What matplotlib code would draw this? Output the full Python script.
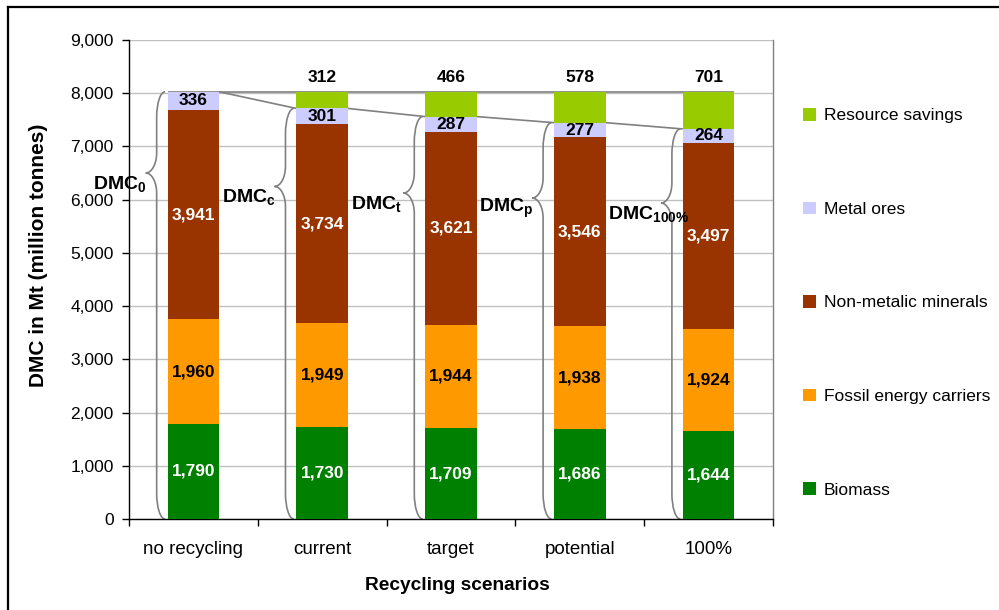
import numpy as np
import matplotlib
matplotlib.use("Agg")
import matplotlib.pyplot as plt
from matplotlib.path import Path
from matplotlib.patches import PathPatch
from matplotlib.lines import Line2D
from matplotlib.ticker import FuncFormatter

plt.rcParams['font.family'] = ['Liberation Sans', 'DejaVu Sans']
plt.rcParams['mathtext.fontset'] = 'custom'
plt.rcParams['mathtext.rm'] = 'Liberation Sans'
plt.rcParams['mathtext.bf'] = 'Liberation Sans:bold'
plt.rcParams['mathtext.it'] = 'Liberation Sans:italic'

# ---- data (million tonnes) ----
scenarios = ['no recycling', 'current', 'target', 'potential', '100%']
biomass = [1790, 1730, 1709, 1686, 1644]
fossil = [1960, 1949, 1944, 1938, 1924]
nonmetallic = [3941, 3734, 3621, 3546, 3497]
metal_ores = [336, 301, 287, 277, 264]
resource_savings = [0, 312, 466, 578, 701]
dmc_subscripts = ['0', 'c', 't', 'p', '100%']

series = [
    ('Biomass', biomass, '#008000', 'white'),
    ('Fossil energy carriers', fossil, '#FF9900', 'black'),
    ('Non-metalic minerals', nonmetallic, '#993300', 'white'),
    ('Metal ores', metal_ores, '#CCCCFF', 'black'),
    ('Resource savings', resource_savings, '#99CC00', 'black'),
]

fig = plt.figure(figsize=(9.99, 6.10), dpi=100)
ax = fig.add_axes([0.1291, 0.1492, 0.6447, 0.7852])

x = np.arange(len(scenarios))
bar_w = 0.4
bottom = np.zeros(len(x))
handles = []
for name, vals, color, tcolor in series:
    vals = np.asarray(vals, dtype=float)
    bars = ax.bar(x, vals, width=bar_w, bottom=bottom, color=color,
                  label=name, zorder=3, linewidth=0)
    handles.append(bars)
    for xi, b, v in zip(x, bottom, vals):
        if v <= 0:
            continue
        if name == 'Resource savings':
            ax.annotate(f'{v:,.0f}', (xi, b + v), xytext=(0, 7),
                        textcoords='offset pixels', ha='center', va='bottom',
                        fontsize=12.5, fontweight='bold', color=tcolor, zorder=5)
        else:
            ax.text(xi, b + v / 2, f'{v:,.0f}', ha='center', va='center',
                    fontsize=12.5, fontweight='bold', color=tcolor, zorder=5)
    bottom += vals

# DMC = all material categories (savings excluded)
dmc = (np.asarray(biomass) + np.asarray(fossil) + np.asarray(nonmetallic)
       + np.asarray(metal_ores)).astype(float)

line_kw = dict(color='#808080', lw=1.2, zorder=2, solid_capstyle='butt')
# reference level of the no-recycling scenario
ax.plot([x[0] - bar_w / 2, x[-1] + bar_w / 2], [dmc[0], dmc[0]], **line_kw)
# decline of DMC from scenario to scenario
for i in range(len(x) - 1):
    ax.plot([x[i] + bar_w / 2, x[i + 1] - bar_w / 2], [dmc[i], dmc[i + 1]], **line_kw)


def brace_path(xl, top, tip_frac=0.81):
    """Left-pointing curly brace from 0 to `top`, ending at x = xl."""
    xe = xl - 0.02     # curl ends
    xv = xl - 0.085    # vertical stroke
    xt = xl - 0.17     # tip
    r = 480.0          # end curl height
    rt = 380.0         # tip curl height
    k = 0.5523
    tip = top * tip_frac
    verts = [
        (xe, top),
        (xe - k * (xe - xv), top), (xv, top - r + k * r), (xv, top - r),
        (xv, tip + rt),
        (xv, tip + rt - k * rt), (xt + k * (xv - xt), tip), (xt, tip),
        (xt + k * (xv - xt), tip), (xv, tip - rt + k * rt), (xv, tip - rt),
        (xv, r),
        (xv, r - k * r), (xe - k * (xe - xv), 0), (xe, 0),
    ]
    codes = ([Path.MOVETO] + [Path.CURVE4] * 3 + [Path.LINETO] + [Path.CURVE4] * 6
             + [Path.LINETO] + [Path.CURVE4] * 3)
    return Path(verts, codes), xt, tip


for i, (xi, d, sub) in enumerate(zip(x, dmc, dmc_subscripts)):
    path, xt, tip = brace_path(xi - bar_w / 2, d)
    ax.add_patch(PathPatch(path, facecolor='none', edgecolor='#808080',
                           lw=1.2, zorder=2.5, clip_on=False))
    ax.text(xi - 0.78, tip - 200, r'$\mathbf{DMC_{%s}}$' % sub.replace('%', r'\%'),
            ha='left', va='center', fontsize=14, zorder=6, clip_on=False)

# axes styling
ax.set_xlim(-0.5, len(x) - 0.5)
ax.set_ylim(0, 9000)
ax.set_yticks(np.arange(0, 9001, 1000))
ax.yaxis.set_major_formatter(FuncFormatter(lambda v, p: f'{v:,.0f}'))
ax.yaxis.grid(True, color='#C0C0C0', lw=1, zorder=0)
ax.set_axisbelow(True)

ax.set_xticks(x)
ax.set_xticklabels(scenarios)
ax.set_xticks(np.arange(-0.5, len(x), 1.0), minor=True)
ax.tick_params(axis='x', which='major', length=0, pad=16, labelsize=13.5)
ax.tick_params(axis='x', which='minor', length=5, direction='out', width=1)
ax.tick_params(axis='y', length=5, direction='out', width=1, pad=6, labelsize=12.5)

for side in ('left', 'bottom'):
    ax.spines[side].set_color('black')
    ax.spines[side].set_linewidth(1)
ax.spines['top'].set_visible(False)
ax.spines['right'].set_color('#808080')
ax.spines['right'].set_linewidth(1)

ax.set_xlabel('Recycling scenarios', fontsize=13.8, fontweight='bold')
ax.xaxis.set_label_coords(0.51, -0.138)
ax.xaxis.label.set_va('center')
ax.set_ylabel('DMC in Mt (million tonnes)', fontsize=15, fontweight='bold')
ax.yaxis.set_label_coords(-0.141, 0.55)
ax.yaxis.label.set_va('center')

fig.legend([h for h in handles[::-1]], [s[0] for s in series[::-1]],
           loc='upper left', bbox_to_anchor=(803 / 999, 1 - 108 / 610),
           frameon=False, fontsize=12.5, handlelength=0.75, handleheight=0.75,
           handletextpad=0.45, labelspacing=4.5, borderpad=0, borderaxespad=0)

# outer frame
fig.add_artist(Line2D([8 / 999, 1.0], [1 - 7 / 610] * 2, color='black', lw=1.6,
                      transform=fig.transFigure))
fig.add_artist(Line2D([8 / 999] * 2, [0.0, 1 - 7 / 610], color='black', lw=1.6,
                      transform=fig.transFigure))

fig.savefig('out.png', dpi=100, facecolor='white')
